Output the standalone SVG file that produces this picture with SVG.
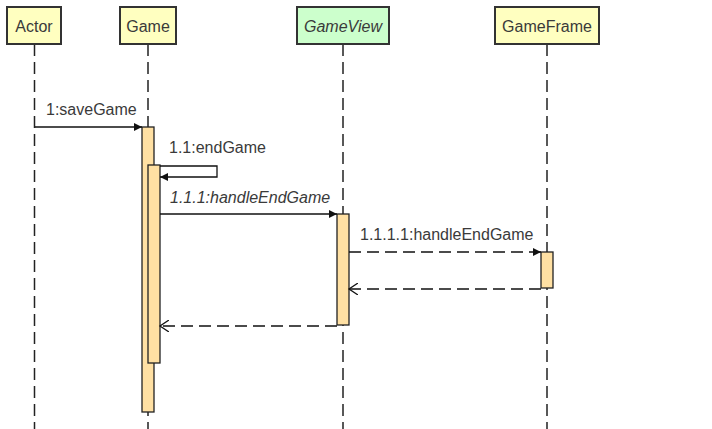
<svg xmlns="http://www.w3.org/2000/svg" width="712" height="429" viewBox="0 0 712 429">
<style>
text{font-family:"Liberation Sans",Arial,sans-serif;font-size:16px;fill:#3a3a3a}
.hd{stroke:#333;stroke-width:2}
.y{fill:#ffffc0}
.g{fill:#ccffcc}
.life{stroke:#222;stroke-width:1.5;stroke-dasharray:12,6;fill:none}
.act{fill:#ffe0a3;stroke:#222;stroke-width:1.3}
.msg{stroke:#111;stroke-width:1.3;fill:none}
.ret{stroke:#111;stroke-width:1.3;fill:none;stroke-dasharray:12,6}
.it{font-style:italic}
</style>
<defs>
<marker id="fa" markerWidth="10" markerHeight="10" refX="8" refY="4" orient="auto" markerUnits="userSpaceOnUse"><path d="M0,0 L8,4 L0,8 z" fill="#111"/></marker>
<marker id="oa" markerWidth="12" markerHeight="12" refX="9" refY="6" orient="auto" markerUnits="userSpaceOnUse"><path d="M0,0 L9,6 L0,12" fill="none" stroke="#111" stroke-width="1.3"/></marker>
</defs>
<g id="lifelines">
<line class="life" x1="34.5" y1="44" x2="34.5" y2="429"/>
<line class="life" x1="148" y1="44" x2="148" y2="429"/>
<line class="life" x1="343" y1="44" x2="343" y2="429"/>
<line class="life" x1="547" y1="44" x2="547" y2="429"/>
</g>
<g id="Actor"><rect class="hd y" x="7" y="7" width="54" height="37"/><text x="34" y="32" text-anchor="middle">Actor</text></g>
<g id="Game"><rect class="hd y" x="120" y="7" width="56" height="37"/><text x="148" y="32" text-anchor="middle">Game</text></g>
<g id="GameView"><rect class="hd g" x="297" y="7" width="92" height="37"/><text class="it" x="343" y="32" text-anchor="middle">GameView</text></g>
<g id="GameFrame"><rect class="hd y" x="495" y="7" width="104" height="37"/><text x="547" y="32" text-anchor="middle">GameFrame</text></g>
<g id="activations">
<rect class="act" x="142" y="127" width="12" height="285"/>
<rect class="act" x="148" y="165" width="12" height="198"/>
<rect class="act" x="337" y="214" width="12" height="111"/>
<rect class="act" x="541" y="252" width="12" height="36"/>
</g>
<g id="connectors">
<line class="msg" x1="35" y1="127" x2="142" y2="127" marker-end="url(#fa)"/>
<path class="msg" d="M160,166 H217 V177 H160" marker-end="url(#fa)"/>
<line class="msg" x1="160" y1="214" x2="337" y2="214" marker-end="url(#fa)"/>
<line class="ret" x1="349" y1="252" x2="541" y2="252" marker-end="url(#fa)"/>
<line class="ret" x1="541" y1="289" x2="349" y2="289" marker-end="url(#oa)"/>
<line class="ret" x1="337" y1="326" x2="160" y2="326" marker-end="url(#oa)"/>
</g>
<g id="labels">
<text x="46" y="115">1:saveGame</text>
<text x="169" y="153">1.1:endGame</text>
<text class="it" x="170" y="203">1.1.1:handleEndGame</text>
<text x="360" y="240">1.1.1.1:handleEndGame</text>
</g>
</svg>
